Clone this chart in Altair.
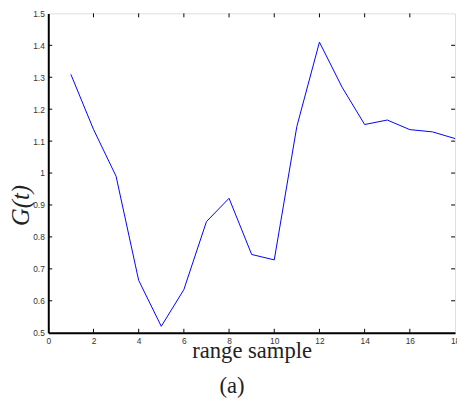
import altair as alt
import pandas as pd

samples = list(range(1, 19))
g_values = [1.309, 1.137, 0.990, 0.664, 0.520, 0.635, 0.848, 0.921, 0.745, 0.728,
            1.146, 1.410, 1.269, 1.152, 1.166, 1.136, 1.129, 1.108]
x_ticks = [0, 2, 4, 6, 8, 10, 12, 14, 16, 18]
y_ticks = [0.5, 0.6, 0.7, 0.8, 0.9, 1.0, 1.1, 1.2, 1.3, 1.4, 1.5]
x_inner = [2, 4, 6, 8, 10, 12, 14, 16]
y_inner = [0.6, 0.7, 0.8, 0.9, 1.0, 1.1, 1.2, 1.3, 1.4]

W, H = 414, 325

df = pd.DataFrame({"x": samples, "g": g_values})
xs = alt.Scale(domain=[0, 18], nice=False, zero=False)
ys = alt.Scale(domain=[0.5, 1.5], nice=False, zero=False)

label_font = "Liberation Sans"

line = alt.Chart(df).mark_line(color="#0000ff", strokeWidth=1).encode(
    x=alt.X("x:Q", scale=xs, axis=alt.Axis(
        values=x_ticks, tickSize=0, labelPadding=4, labelFont=label_font,
        labelFontSize=8.5, labelColor="#333", domainColor="black", domainWidth=2,
        grid=False, title="range sample", titleFont="Liberation Serif",
        titleFontSize=23, titleFontWeight="normal", titleColor="#222",
        titleX=W / 2, titleY=25, titleBaseline="alphabetic",
        labelFlush=False, labelOverlap=False)),
    y=alt.Y("g:Q", scale=ys, axis=alt.Axis(
        values=y_ticks, format=".1~f", tickSize=0, labelPadding=4,
        labelFont=label_font, labelFontSize=8.5, labelColor="#333",
        domainColor="black", domainWidth=2, grid=False, title="G(t)",
        titleFont="Liberation Serif", titleFontStyle="italic", titleFontSize=25,
        titleFontWeight="normal", titleColor="#222", titleX=-20, titleY=195,
        titleBaseline="alphabetic", titleAngle=-90, labelFlush=False,
        labelOverlap=False)),
)

xt = pd.DataFrame({"t": x_inner})
yt = pd.DataFrame({"t": y_inner})

bottom_ticks = alt.Chart(xt).mark_rule(color="black", strokeWidth=1).encode(
    x=alt.X("t:Q", scale=xs, axis=None), y=alt.value(H), y2=alt.value(H - 4))
top_ticks = alt.Chart(xt).mark_rule(color="black", strokeWidth=1).encode(
    x=alt.X("t:Q", scale=xs, axis=None), y=alt.value(0), y2=alt.value(4))
left_ticks = alt.Chart(yt).mark_rule(color="black", strokeWidth=1).encode(
    y=alt.Y("t:Q", scale=ys, axis=None), x=alt.value(0), x2=alt.value(4))
right_ticks = alt.Chart(yt).mark_rule(color="black", strokeWidth=1).encode(
    y=alt.Y("t:Q", scale=ys, axis=None), x=alt.value(W), x2=alt.value(W - 4))

caption = alt.Chart(pd.DataFrame({"c": ["(a)"]})).mark_text(
    font="Liberation Serif", fontSize=23, color="#222", baseline="alphabetic",
    align="center").encode(text="c:N", x=alt.value(187), y=alt.value(386))

chart = alt.layer(line, bottom_ticks, top_ticks, left_ticks, right_ticks, caption).resolve_axis(
    x="independent", y="independent"
).properties(
    width=W, height=H,
    autosize=alt.AutoSizeParams(type="none"),
    padding={"left": 41, "top": 2, "right": 2, "bottom": 65},
).configure_view(stroke="black", strokeWidth=1).configure(background="white")

chart.save("out.html", embed_options={"renderer": "svg", "actions": False})
